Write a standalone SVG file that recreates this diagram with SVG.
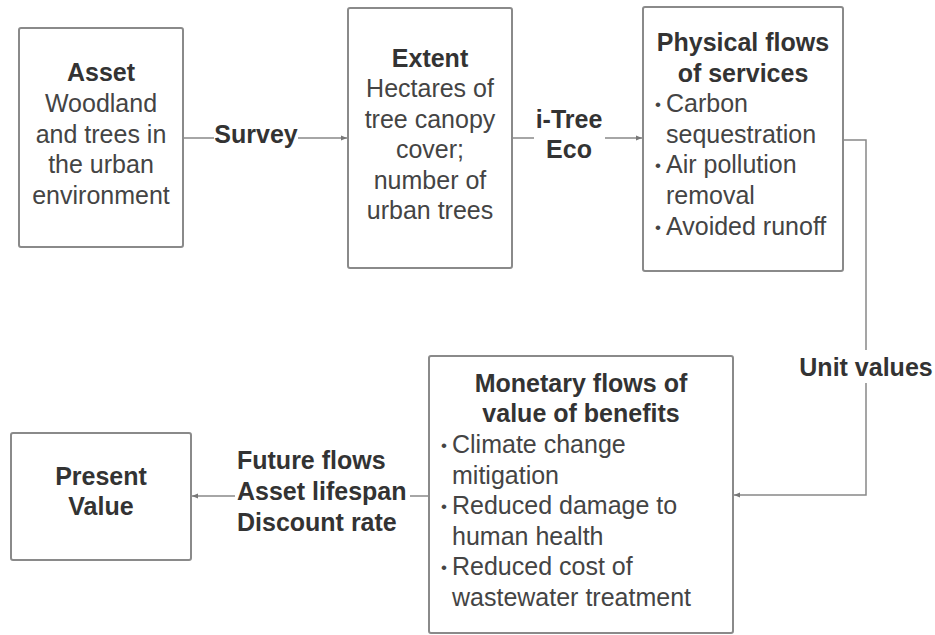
<svg xmlns="http://www.w3.org/2000/svg" width="935" height="635" viewBox="0 0 935 635">
<defs>
<marker id="arr" viewBox="0 0 10 10" refX="10" refY="5" markerWidth="6" markerHeight="6" orient="auto" markerUnits="userSpaceOnUse">
<path d="M0,1 L10,5 L0,9 z" fill="#777"/>
</marker>
<style>
.box{fill:#fff;stroke:#8a8a8a;stroke-width:2}
.t{font-family:"Liberation Sans",Arial,sans-serif;font-size:25px;fill:#444}
.b{font-weight:bold;fill:#333}
.c{text-anchor:middle}
.d{font-size:17px}
.ln{fill:none;stroke:#888;stroke-width:1.5}
</style>
</defs>
<rect width="935" height="635" fill="#fff"/>
<g id="connectors">
<line class="ln" x1="183" y1="138" x2="214" y2="138"/>
<line class="ln" x1="298" y1="138" x2="347" y2="138" marker-end="url(#arr)"/>
<text class="t b c" x="256" y="143">Survey</text>
<line class="ln" x1="512" y1="138" x2="534" y2="138"/>
<line class="ln" x1="605" y1="138" x2="642" y2="138" marker-end="url(#arr)"/>
<text class="t b c" x="569" y="128">i-Tree</text>
<text class="t b c" x="569" y="158">Eco</text>
<polyline class="ln" points="843,140 866,140 866,350"/>
<polyline class="ln" points="866,383 866,495 734,495" marker-end="url(#arr)"/>
<text class="t b c" x="866" y="376">Unit values</text>
<line class="ln" x1="429" y1="496" x2="410" y2="496"/>
<line class="ln" x1="235" y1="496" x2="192" y2="496" marker-end="url(#arr)"/>
<text class="t b" x="237" y="469">Future flows</text>
<text class="t b" x="237" y="500">Asset lifespan</text>
<text class="t b" x="237" y="531">Discount rate</text>
</g>
<g id="asset">
<rect class="box" x="19" y="28" width="164" height="219" rx="2"/>
<text class="t b c" x="101" y="81">Asset</text>
<text class="t c" x="101" y="112">Woodland</text>
<text class="t c" x="101" y="143">and trees in</text>
<text class="t c" x="101" y="173">the urban</text>
<text class="t c" x="101" y="204">environment</text>
</g>
<g id="extent">
<rect class="box" x="348" y="8" width="164" height="260" rx="2"/>
<text class="t b c" x="430" y="67">Extent</text>
<text class="t c" x="430" y="97">Hectares of</text>
<text class="t c" x="430" y="128">tree canopy</text>
<text class="t c" x="430" y="158">cover;</text>
<text class="t c" x="430" y="189">number of</text>
<text class="t c" x="430" y="219">urban trees</text>
</g>
<g id="physical">
<rect class="box" x="643" y="7" width="200" height="264" rx="2"/>
<text class="t b c" x="743" y="51">Physical flows</text>
<text class="t b c" x="743" y="82">of services</text>
<text class="t d" x="655" y="110">•</text>
<text class="t" x="666" y="112">Carbon</text>
<text class="t" x="666" y="143">sequestration</text>
<text class="t d" x="655" y="171">•</text>
<text class="t" x="666" y="173">Air pollution</text>
<text class="t" x="666" y="204">removal</text>
<text class="t d" x="655" y="233">•</text>
<text class="t" x="666" y="235">Avoided runoff</text>
</g>
<g id="monetary">
<rect class="box" x="429" y="356" width="304" height="277" rx="2"/>
<text class="t b c" x="581" y="392">Monetary flows of</text>
<text class="t b c" x="581" y="422">value of benefits</text>
<text class="t d" x="441" y="451">•</text>
<text class="t" x="452" y="453">Climate change</text>
<text class="t" x="452" y="484">mitigation</text>
<text class="t d" x="441" y="512">•</text>
<text class="t" x="452" y="514">Reduced damage to</text>
<text class="t" x="452" y="545">human health</text>
<text class="t d" x="441" y="573">•</text>
<text class="t" x="452" y="575">Reduced cost of</text>
<text class="t" x="452" y="606">wastewater treatment</text>
</g>
<g id="present">
<rect class="box" x="11" y="433" width="180" height="127" rx="2"/>
<text class="t b c" x="101" y="485">Present</text>
<text class="t b c" x="101" y="515">Value</text>
</g>
</svg>
